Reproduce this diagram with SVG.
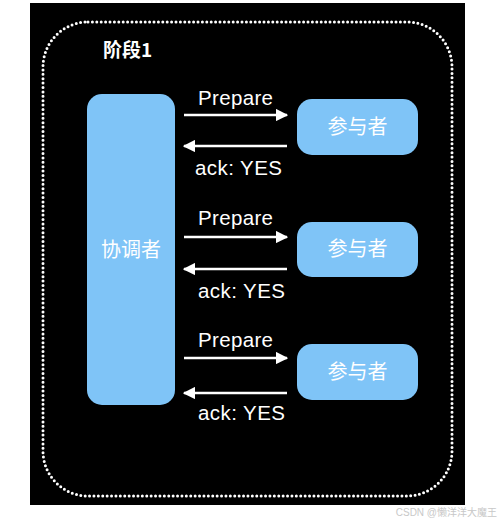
<svg xmlns="http://www.w3.org/2000/svg" width="500" height="519" viewBox="0 0 500 519">
<style>
.box{fill:#7fc4f7}
.cjk{font-family:"Noto Sans CJK SC","Noto Sans",sans-serif;fill:#ffffff}
.lbl{font-family:"Liberation Sans",Arial,sans-serif;font-size:20.5px;fill:#ffffff}
.arr{stroke:#ffffff;stroke-width:2.5;fill:none}
</style>
<defs>
<marker id="ah" viewBox="0 0 10 10" refX="9" refY="5" markerWidth="5" markerHeight="5" orient="auto" markerUnits="strokeWidth">
<path d="M0,0 L10,5 L0,10 z" fill="#ffffff"/>
</marker>
</defs>
<rect x="0" y="0" width="500" height="519" fill="#ffffff"/>
<rect x="30" y="3" width="435" height="502" fill="#000000"/>
<rect x="43" y="22" width="409" height="474" rx="45" fill="none" stroke="#ffffff" stroke-width="3" stroke-dasharray="0 4.4" stroke-linecap="round"/>
<text x="103" y="57" class="cjk" font-size="19" font-weight="bold">阶段1</text>

<g id="coordinator">
<rect class="box" x="87" y="94" width="88" height="311" rx="15"/>
<text class="cjk" x="131" y="257" font-size="20" text-anchor="middle">协调者</text>
</g>
<g id="participant1">
<rect class="box" x="297" y="99" width="121" height="56" rx="15"/>
<text class="cjk" x="357.5" y="134" font-size="20" text-anchor="middle">参与者</text>
</g>
<g id="participant2">
<rect class="box" x="297" y="222" width="121" height="55" rx="15"/>
<text class="cjk" x="357.5" y="256" font-size="20" text-anchor="middle">参与者</text>
</g>
<g id="participant3">
<rect class="box" x="297" y="344" width="121" height="56" rx="15"/>
<text class="cjk" x="357.5" y="379" font-size="20" text-anchor="middle">参与者</text>
</g>

<g id="connectors">
<line class="arr" x1="184" y1="115" x2="287" y2="115" marker-end="url(#ah)"/>
<line class="arr" x1="287" y1="146" x2="184" y2="146" marker-end="url(#ah)"/>
<line class="arr" x1="184" y1="237" x2="287" y2="237" marker-end="url(#ah)"/>
<line class="arr" x1="287" y1="269" x2="184" y2="269" marker-end="url(#ah)"/>
<line class="arr" x1="184" y1="358" x2="287" y2="358" marker-end="url(#ah)"/>
<line class="arr" x1="287" y1="393" x2="184" y2="393" marker-end="url(#ah)"/>
<text class="lbl" x="198" y="105" textLength="75">Prepare</text>
<text class="lbl" x="195" y="175" textLength="87">ack: YES</text>
<text class="lbl" x="198" y="225" textLength="75">Prepare</text>
<text class="lbl" x="198" y="298" textLength="87">ack: YES</text>
<text class="lbl" x="198" y="347" textLength="75">Prepare</text>
<text class="lbl" x="198" y="420" textLength="87">ack: YES</text>
</g>
<text x="497" y="516" font-family="Liberation Sans,'Noto Sans CJK SC',sans-serif" font-size="10" fill="#c8c8c8" text-anchor="end">CSDN @懒洋洋大魔王</text>
</svg>
